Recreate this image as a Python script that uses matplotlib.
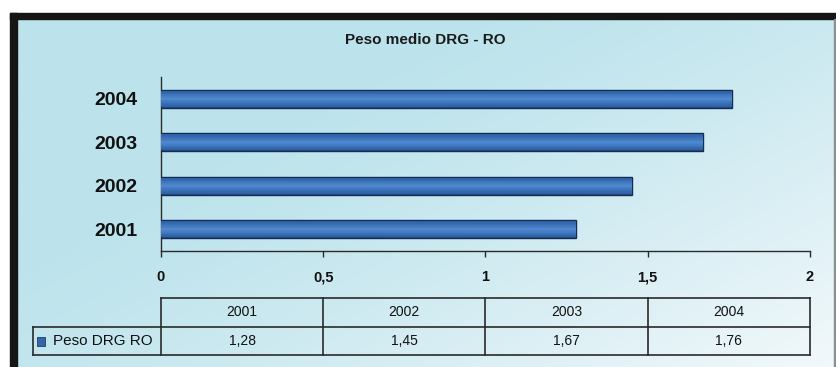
import numpy as np
import matplotlib.pyplot as plt
from matplotlib.patches import Rectangle
from matplotlib.ticker import FuncFormatter

years = ['2001', '2002', '2003', '2004']
peso = [1.28, 1.45, 1.67, 1.76]
title = 'Peso medio DRG - RO'
series_name = 'Peso DRG RO'

W, H = 837, 367
plt.rcParams['font.family'] = ['Liberation Sans', 'DejaVu Sans']

fig = plt.figure(figsize=(W / 100, H / 100), dpi=100)
fig.patch.set_facecolor('white')


def px_axes(x0, y0, x1, y1, **kw):
    # axes placed by pixel box (top-left origin)
    return fig.add_axes([x0 / W, 1 - y1 / H, (x1 - x0) / W, (y1 - y0) / H], **kw)


# light cyan panel fading to white toward the lower right
bg = px_axes(17, 19, 835, 367)
gx, gy = np.meshgrid(np.linspace(0, 1, 300), np.linspace(0, 1, 150))
t = np.clip(0.75 * gx + 0.6 * gy - 0.4, 0, 1) ** 1.3
top = np.array([188, 227, 236]) / 255
low = np.array([246, 250, 252]) / 255
img = top[None, None, :] * (1 - t[..., None]) + low[None, None, :] * t[..., None]
bg.imshow(img, aspect='auto', extent=(0, 1, 0, 1), origin='upper')
bg.set_axis_off()

# frame
fig.patches.append(Rectangle((10 / W, 1 - 19 / H), 827 / W, 6 / H,
                             transform=fig.transFigure, color='#151515', zorder=5))
fig.patches.append(Rectangle((10 / W, 0), 7 / W, 1 - 13 / H,
                             transform=fig.transFigure, color='#151515', zorder=5))
fig.patches.append(Rectangle((834 / W, 0), 2 / W, 1 - 19 / H,
                             transform=fig.transFigure, color='#8a8f92', zorder=5))

fig.text(425 / W, 1 - 40 / H, title, ha='center', va='center', fontsize=11,
         fontweight='bold', color='#1a1a1a')

# bar chart, shaded as cylinders: stacked bars of shrinking height
ax = px_axes(161, 77, 810, 251)
ax.patch.set_alpha(0)
pos = np.arange(len(years))
ax.barh(pos, peso, height=0.42, color='#244e8a', edgecolor='#142c52', linewidth=1.0, zorder=2)
dark = np.array([0x2e, 0x60, 0xa6]) / 255
light = np.array([0x4e, 0x88, 0xce]) / 255
for i, h in enumerate(np.linspace(0.36, 0.04, 9)):
    f = i / 8
    ax.barh(pos, peso, height=h, color=dark * (1 - f) + light * f, linewidth=0, zorder=3)
ax.set_xlim(0, 2)
ax.set_ylim(-0.5, len(years) - 0.5)
ax.set_xticks([0, 0.5, 1, 1.5, 2])
ax.xaxis.set_major_formatter(FuncFormatter(lambda v, p: f'{v:g}'.replace('.', ',')))
ax.set_yticks(pos)
ax.set_yticklabels(years)
for s in ['top', 'right']:
    ax.spines[s].set_visible(False)
for s in ['left', 'bottom']:
    ax.spines[s].set_color('#2a2a2a')
    ax.spines[s].set_linewidth(1.0)
ax.tick_params(axis='x', direction='out', length=4, width=1, color='#2a2a2a',
               pad=10, labelsize=10.5, labelcolor='#111111')
ax.tick_params(axis='y', length=0, pad=17, labelsize=14, labelcolor='#111111')
for lab in ax.get_xticklabels() + ax.get_yticklabels():
    lab.set_fontweight('bold')

# data table under the axis
tab = px_axes(161, 298, 810, 355)
tab.set_axis_off()
tab.set_xlim(0, 1)
tab.set_ylim(0, 2)
left = -128 / 649
lc = '#2a2a2a'
n = len(years)
tab.plot([0, 1], [2, 2], color=lc, lw=1.2, clip_on=False)
tab.plot([left, 1], [1, 1], color=lc, lw=1.2, clip_on=False)
tab.plot([left, 1], [0, 0], color=lc, lw=1.2, clip_on=False)
tab.plot([left, left], [0, 1], color=lc, lw=1.2, clip_on=False)
for k in range(n + 1):
    tab.plot([k / n, k / n], [0, 2], color=lc, lw=1.2, clip_on=False)
for k, (yr, v) in enumerate(zip(years, peso)):
    xc = (k + 0.5) / n
    tab.text(xc, 1.5, yr, ha='center', va='center', fontsize=10, color='#111111')
    tab.text(xc, 0.5, f'{v:.2f}'.replace('.', ','), ha='center', va='center',
             fontsize=10, color='#111111')
tab.add_patch(Rectangle((left + 4 / 649, 0.33), 8 / 649, 0.3, facecolor='#3565a8',
                        edgecolor='#1f3d6a', lw=0.6, clip_on=False))
tab.text(left + 20 / 649, 0.5, series_name, ha='left', va='center', fontsize=11,
         color='#111111')

fig.savefig('out.png', dpi=100)
